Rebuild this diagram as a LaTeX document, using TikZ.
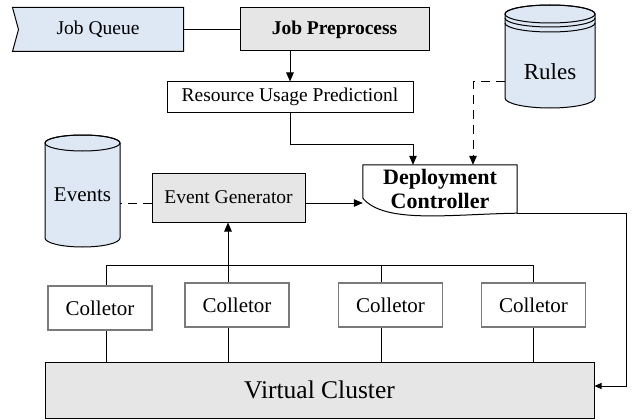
\documentclass[tikz,border=0pt]{standalone}
\usepackage{fontspec}
\setmainfont{Liberation Serif}
\usetikzlibrary{arrows.meta,backgrounds,calc}
\definecolor{boxgray}{HTML}{E6E6E6}
\definecolor{dbblue}{HTML}{DEE7F4}
\definecolor{collgray}{HTML}{7A7A7A}

\begin{document}
\begin{tikzpicture}[x=1pt,y=-1pt,
  box/.style={draw,line width=1pt,inner sep=0pt,align=center,font=\fontsize{19.5}{22}\selectfont},
  gbox/.style={box,fill=boxgray},
  coll/.style={draw=collgray,line width=1.8pt,inner sep=0pt,minimum width=104pt,minimum height=44pt,font=\fontsize{21}{24}\selectfont},
  db/.style={draw,line width=1pt,fill=dbblue},
  ln/.style={line width=1pt},
  arr/.style={-{Triangle[length=9pt,width=7.5pt]},line width=1pt},
  dashln/.style={line width=1pt,dash pattern=on 9pt off 6pt}]
\useasboundingbox (0,0) rectangle (635,420);

% data stores
\draw[db] (505,14) -- (505,98) arc[start angle=180,end angle=360,x radius=45pt,y radius=10pt]
  -- (595,14) arc[start angle=0,end angle=180,x radius=45pt,y radius=9pt] -- cycle;
\draw[ln] (550,14) ellipse[x radius=45pt,y radius=9pt];
\draw[ln] (595,18) arc[start angle=360,end angle=180,x radius=45pt,y radius=9pt];
\draw[ln] (595,23) arc[start angle=360,end angle=180,x radius=45pt,y radius=9pt];
\draw[db] (45,143) -- (45,238) arc[start angle=180,end angle=360,x radius=37.5pt,y radius=9pt]
  -- (120,143) arc[start angle=0,end angle=180,x radius=37.5pt,y radius=8pt] -- cycle;
\draw[ln] (82.5,143) ellipse[x radius=37.5pt,y radius=8pt];

% nodes
\node[box,draw=none,minimum width=170pt,minimum height=43pt] (jq) at (98,29.5) {Job Queue};
\node[gbox,minimum width=189pt,minimum height=43pt,font=\fontsize{19.5}{22}\selectfont\bfseries] (jp) at (334.5,29.5) {Job Preprocess};
\node[box,minimum width=246pt,minimum height=30pt] (rup) at (290,97) {Resource Usage Predictionl};
\node[gbox,minimum width=153pt,minimum height=49pt] (eg) at (228.5,197.5) {Event Generator};
\node[inner sep=0pt,minimum width=154pt,minimum height=48pt,align=center,font=\fontsize{22}{24}\selectfont\bfseries] (dc) at (440,189) {Deployment\\Controller};
\node[inner sep=0pt,minimum width=75pt,font=\fontsize{21}{24}\selectfont] (events) at (82.5,195) {Events};
\node[inner sep=0pt,minimum width=90pt,font=\fontsize{23}{26}\selectfont] (rules) at (550,72) {Rules};
\node[gbox,minimum width=549pt,minimum height=56pt,font=\fontsize{25.5}{28}\selectfont] (vc) at (319.5,390) {Virtual Cluster};

% collectors hang off one bus
\foreach \i/\cx/\cy/\tx in {1/100/308/106,2/237/305/228,3/390.5/305/381,4/533.5/305/533}{
  \node[coll] (col\i) at (\cx,\cy) {Colletor};
  \coordinate (tap\i) at (\tx,265);
  \draw[ln] (tap\i |- col\i.south) -- (tap\i |- vc.north);
}
\draw[ln] (tap1) -- (tap4);
\draw[ln] (tap1) -- (tap1 |- col1.north);
\draw[ln] (tap3) -- (tap3 |- col3.north);
\draw[ln] (tap4) -- (tap4 |- col4.north);
\draw[arr] (tap2 |- col2.north) -- (tap2 |- eg.south);

% outlines of the odd shapes
\begin{scope}[on background layer]
\draw[ln,fill=dbblue] (jq.north west) -- (jq.north east) -- (jq.south east) -- (jq.south west)
  -- ([xshift=6pt]jq.west) -- cycle;
\draw[ln,fill=white] (dc.north west) -- (dc.north east) -- (dc.south east)
  .. controls ($(dc.south)+(10,1)$) and ($(dc.south west)+(22,11)$) .. ([yshift=15pt]dc.south west) -- cycle;
\end{scope}

% connectors
\draw[ln] (jq.east) -- (jp.west);
\draw[arr] (rup.north |- jp.south) -- (rup.north);
\draw[arr] (rup.south) -- ++(0,32) -| ([xshift=-27pt]dc.north);
\draw[dashln,-{Triangle[length=9pt,width=7.5pt]}] ([yshift=-10pt]rules.west) -| ([xshift=33pt]dc.north);
\draw[dashln] ([yshift=-5.5pt]eg.west) -- ([yshift=-5.5pt]eg.west -| events.east);
\draw[arr] ([yshift=-5.5pt]eg.east) -- ([yshift=-5.5pt]eg.east -| dc.west);
\draw[ln,-{Triangle[length=7pt,width=6pt]}] (dc.south east) -- ++(109,0) |- ([yshift=4pt]vc.east);
\end{tikzpicture}
\end{document}
